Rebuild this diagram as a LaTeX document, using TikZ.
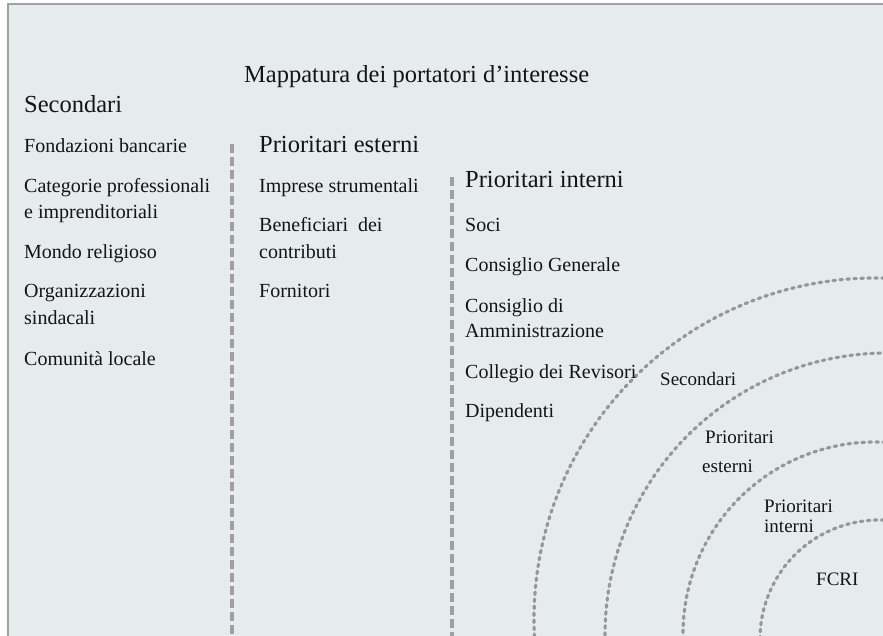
\documentclass[tikz,border=0pt]{standalone}
\usepackage{fontspec}
\setmainfont{Liberation Serif}
\definecolor{bgfill}{RGB}{230,235,236}
\definecolor{framec}{RGB}{160,160,160}
\definecolor{dashc}{RGB}{160,160,160}
\definecolor{arcc}{RGB}{150,151,156}
\definecolor{txt}{RGB}{20,20,20}
\begin{document}
\begin{tikzpicture}[x=1pt,y=-1pt,
  item/.style={anchor=base west, inner sep=0pt, font=\fontsize{20}{24}\selectfont, text=txt},
  head/.style={anchor=base west, inner sep=0pt, font=\fontsize{24.5}{29}\selectfont, text=txt},
  arclabel/.style={anchor=base west, inner sep=0pt, font=\fontsize{19}{23}\selectfont, text=txt},
  divider/.style={draw=dashc, line width=3.4pt, dash pattern=on 9pt off 4pt},
  ring/.style={draw=arcc, line width=3.2pt, line cap=round, dash pattern=on 2.5pt off 4.5pt}]
\useasboundingbox (0,0) rectangle (883,636);
\clip (0,0) rectangle (883,636);
\fill[bgfill] (8,4) rectangle (890,640);
\draw[framec, line width=1.6pt] (8,645) -- (8,4) -- (890,4);

% dividers
\draw[divider] (232,144) -- (232,645);
\draw[divider] (452,177) -- (452,645);

% rings
\draw[ring] ([shift={(170:341)}]875,619) arc (170:282:341);
\draw[ring] ([shift={(170:282)}]887,635) arc (170:282:282);
\draw[ring] ([shift={(170:192)}]875,634) arc (170:282:192);
\draw[ring] ([shift={(170:119)}]879,639) arc (170:282:119);

% title
\node[head] (title) at (244,83) {Mappatura dei portatori d’interesse};

% column 1
\node[head] (sec) at (24,113) {Secondari};
\node[item] (s1) at (24,153) {Fondazioni bancarie};
\node[item] (s2a) at (24,193) {Categorie professionali};
\node[item] (s2b) at (24,219) {e imprenditoriali};
\node[item] (s3) at (24,259) {Mondo religioso};
\node[item] (s4a) at (24,298) {Organizzazioni};
\node[item] (s4b) at (24,324) {sindacali};
\node[item] (s5) at (24,365) {Comunità locale};

% column 2
\node[head] (pe) at (259,153) {Prioritari esterni};
\node[item] (e1) at (259,193) {Imprese strumentali};
\node[item] (e2a) at (259,232) {Beneficiari~ dei};
\node[item] (e2b) at (259,259) {contributi};
\node[item] (e3) at (259,298) {Fornitori};

% column 3
\node[head] (pi) at (465,188) {Prioritari interni};
\node[item] (i1) at (465,232) {Soci};
\node[item] (i2) at (465,272) {Consiglio Generale};
\node[item] (i3a) at (465,312) {Consiglio di};
\node[item] (i3b) at (465,337) {Amministrazione};
\node[item] (i4) at (465,378) {Collegio dei Revisori};
\node[item] (i5) at (465,417) {Dipendenti};

% ring labels
\node[arclabel] (l1) at (660,385) {Secondari};
\node[arclabel] (l2a) at (705,443) {Prioritari};
\node[arclabel] (l2b) at (702,472) {esterni};
\node[arclabel] (l3a) at (764,512) {Prioritari};
\node[arclabel] (l3b) at (764,532) {interni};
\node[arclabel] (l4) at (816,585) {FCRI};
\end{tikzpicture}
\end{document}
